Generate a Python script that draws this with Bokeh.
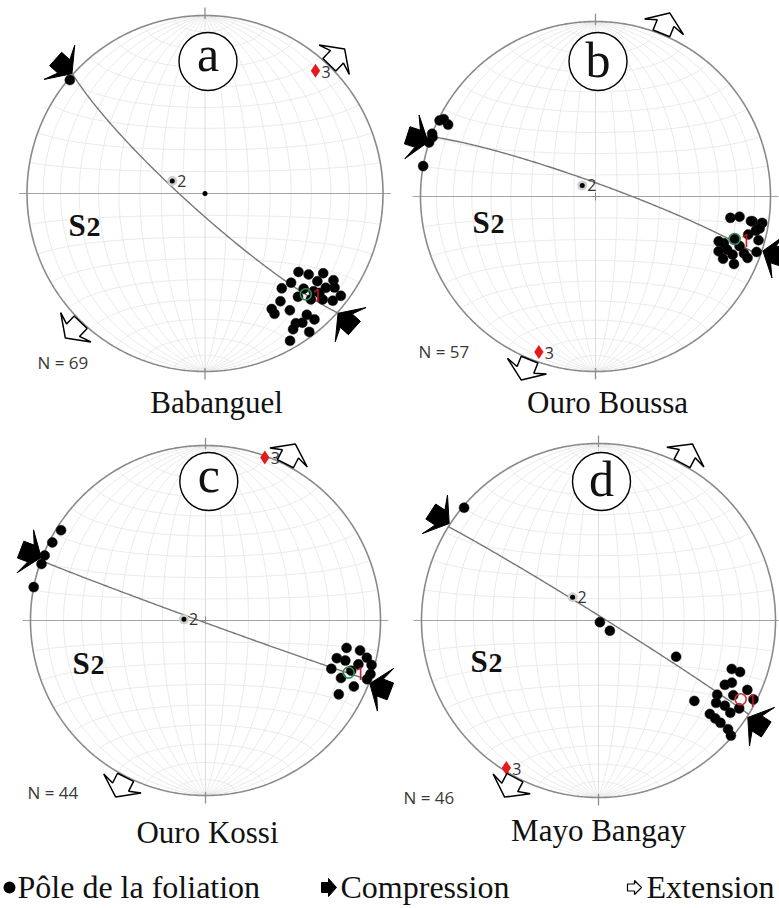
import numpy as np
from bokeh.plotting import figure
from bokeh.models import Range1d
from bokeh.embed import file_html
from bokeh.resources import INLINE
from bokeh.core.properties import value

# ---------------------------------------------------------------- data
stations = ["Babanguel", "Ouro Boussa", "Ouro Kossi", "Mayo Bangay"]
panel_tags = ["a", "b", "c", "d"]
n_counts = [69, 57, 44, 46]

# poles to the S2 foliation, trend / plunge in degrees (lower hemisphere)
pole_trend_a = [130, 128, 124, 124, 136, 141, 134, 128, 126, 127, 145, 138, 132, 130,
                150, 150, 144, 140, 139, 145, 143, 147, 143, 150, 310, 132, 128, 135, 131]
pole_plunge_a = [32, 27, 21, 14, 31, 32, 24, 15, 11, 5, 27, 23, 12, 7,
                 26, 23, 20, 12, 7, 12, 10, 10, 3, 5, 1, 19, 21, 17, 16]

pole_trend_b = [296, 296, 297, 291, 290, 288, 280,
                99, 98, 99, 99, 102, 107, 110, 112, 114, 105,
                109, 113, 111, 116, 112, 116, 110, 99, 101, 109, 104]
pole_plunge_b = [1, 7, 3, 0, 1, 0, 0,
                 23, 18, 10, 4, 7, 18, 23, 20, 24, 4,
                 3, 16, 10, 20, 7, 13, 26, 11, 5, 14, 11]

pole_trend_c = [302, 297, 292, 289, 281,
                101, 101, 106, 103, 111, 105, 113, 110, 119, 114, 108, 109, 106, 106]
pole_plunge_c = [3, 2, 1, 1, 0,
                 19, 11, 23, 6, 24, 2, 17, 2, 14, 8, 1, 13, 18, 10]

pole_trend_d = [310, 140, 132, 115, 130,
                110, 110, 117, 115, 115, 122, 119, 117, 125, 124, 130, 130, 125, 122, 130, 131, 130]
pole_plunge_d = [1, 89, 83, 50, 30,
                 21, 16, 21, 18, 8, 22, 14, 2, 20, 15, 19, 15, 10, 7, 5, 1, 11]

# eigenvectors of the orientation tensor (1 = max, 2 = int, 3 = min)
eig1_trend = [135, 107, 110, 119]
eig1_plunge = [21, 18, 14, 9]
eig2_trend = [291, 310, 273, 312]
eig2_plunge = [74, 82, 80, 74]
eig3_trend = [42, 200, 20, 212]
eig3_plunge = [8, 6, 1, 2]

# azimuths of the shortening and stretching arrows
compression_az = [132, 108, 111, 123]
extension_az = [44, 22, 27, 28]

legend_labels = ["Pôle de la foliation", "Compression", "Extension"]

# ---------------------------------------------------------------- layout
W, H = 779, 908
centers = [(204.5, 193.0), (595.0, 196.0), (205.0, 620.0), (598.0, 620.0)]
radii = [178.0, 175.0, 175.0, 177.0]
tag_circle = [(207.5, 61.0), (597.5, 61.0), (208.3, 481.0), (601.0, 481.0)]
tag_mid = [53.0, 59.0, 474.0, 478.0]          # vertical middle of the tag letter
s2_mid = [(68, 225), (472, 222), (72, 663), (470, 661)]
n_mid = [(37, 362), (418, 351), (27, 792), (403, 797)]
name_mid = [(216, 402), (607, 402), (207, 832), (598, 829.5)]
center_marker = ["circle", "cross", "cross", "cross"]
eig1_color = ["#2e8b57", "#2e8b57", "#2e8b57", "#d0303a"]

SERIF = value("Liberation Serif")
SANS = value("Open Sans")


def line_vec(trend, plunge):
    t = np.radians(np.asarray(trend, float))
    pl = np.radians(np.asarray(plunge, float))
    return np.cos(pl) * np.sin(t), np.cos(pl) * np.cos(t), np.sin(pl)


def equal_area(x, y, z):
    k = 1.0 / np.sqrt(1.0 + np.asarray(z))
    return np.asarray(x) * k, np.asarray(y) * k


def net_lines():
    """Schmidt net: great circles striking N-S and small circles about N-S, every 10 deg."""
    s = np.radians(np.linspace(-90, 90, 181))
    out = []
    for g in range(-80, 90, 10):
        if g == 0:
            continue
        a = np.radians(g)
        out.append(equal_area(np.cos(s) * np.sin(a), np.sin(s), np.cos(s) * np.cos(a)))
        out.append(equal_area(np.cos(a) * np.sin(s), np.full_like(s, np.sin(a)), np.cos(a) * np.cos(s)))
    return out


def girdle(t3, p3):
    t, pl = np.radians(t3), np.radians(p3)
    sv = np.array([np.cos(t), -np.sin(t), 0.0])
    dv = np.array([-np.sin(pl) * np.sin(t), -np.sin(pl) * np.cos(t), np.cos(pl)])
    phi = np.linspace(0, np.pi, 241)
    v = np.outer(np.cos(phi), sv) + np.outer(np.sin(phi), dv)
    return equal_area(v[:, 0], v[:, 1], np.clip(v[:, 2], 0, None))


def arrow_shape(base, direction, length, head_len, head_w, shaft_w, sweep):
    """Block arrow outline: tail centre at base, tip at base + length * direction."""
    u = np.array([0, length - head_len, length - head_len - sweep, length,
                  length - head_len - sweep, length - head_len, 0])
    v = np.array([-shaft_w / 2, -shaft_w / 2, -head_w / 2, 0, head_w / 2, shaft_w / 2, shaft_w / 2])
    dx, dy = direction
    px, py = -dy, dx
    return list(base[0] + u * dx + v * px), list(base[1] + u * dy + v * py)


p = figure(width=W, height=H, x_range=Range1d(0, W), y_range=Range1d(H, 0),
           output_backend="svg", toolbar_location=None,
           x_axis_location=None, y_axis_location=None, min_border=0)
p.grid.visible = False
p.outline_line_color = None
p.background_fill_color = "white"
p.border_fill_color = "white"

poles = [(pole_trend_a, pole_plunge_a), (pole_trend_b, pole_plunge_b),
         (pole_trend_c, pole_plunge_c), (pole_trend_d, pole_plunge_d)]
grid = net_lines()
ring = np.radians(np.linspace(0, 360, 721))

for i in range(4):
    cx, cy = centers[i]
    R = radii[i]

    def scr(X, Y):
        return cx + R * np.asarray(X), cy - R * np.asarray(Y)

    # net
    gx, gy = [], []
    for X, Y in grid:
        sx, sy = scr(X, Y)
        gx.append(list(sx))
        gy.append(list(sy))
    p.multi_line(gx, gy, line_color="#e4e4e4", line_width=0.8)
    # N-S and E-W diameters with ticks
    p.line([cx, cx], [cy - R, cy + R], line_color="#d8d8d8", line_width=0.9)
    p.line([cx - R * 1.045, cx + R * 1.045], [cy, cy], line_color="#a4a4a4", line_width=1.0)
    p.multi_line([[cx, cx], [cx, cx]],
                 [[cy - R * 1.045, cy - R * 0.98], [cy + R * 0.98, cy + R * 1.045]],
                 line_color="#8f8f8f", line_width=1.3)
    # primitive
    px_, py_ = scr(np.sin(ring), np.cos(ring))
    p.line(px_, py_, line_color="#8a8a8a", line_width=1.6)
    # best-fit girdle (plane normal to eigenvector 3)
    GX, GY = girdle(eig3_trend[i], eig3_plunge[i])
    sx, sy = scr(GX, GY)
    p.line(sx, sy, line_color="#777777", line_width=1.4)
    # centre mark
    if center_marker[i] == "circle":
        p.scatter([cx], [cy], marker="circle", size=5, fill_color="black", line_color=None)
    else:
        p.scatter([cx], [cy], marker="cross", size=8, line_color="#888888", line_width=1)

    # poles
    X, Y = equal_area(*line_vec(*poles[i]))
    sx, sy = scr(X, Y)
    p.scatter(sx, sy, marker="circle", size=10, fill_color="black", line_color="#1a1a1a", line_width=0.5)

    # eigenvectors
    X1, Y1 = equal_area(*line_vec([eig1_trend[i]], [eig1_plunge[i]]))
    e1x, e1y = scr(X1, Y1)
    p.scatter(e1x, e1y, marker="circle", size=11, fill_color=None, line_color=eig1_color[i], line_width=1.6)
    p.text(e1x + 6, e1y + 1, text=["1"], text_font=SANS, text_font_size="19px",
           text_color="#c0142a", text_baseline="middle", text_align="left")

    X2, Y2 = equal_area(*line_vec([eig2_trend[i]], [eig2_plunge[i]]))
    e2x, e2y = scr(X2, Y2)
    p.scatter(e2x, e2y, marker="circle", size=10, fill_color="#cfcfcf", line_color=None)
    p.scatter(e2x, e2y, marker="circle", size=5, fill_color="black", line_color=None)
    p.text(e2x + 5, e2y, text=["2"], text_font=SANS, text_font_size="16px",
           text_color="#333333", text_baseline="middle", text_align="left")

    X3, Y3 = equal_area(*line_vec([eig3_trend[i]], [eig3_plunge[i]]))
    e3x, e3y = scr(X3, Y3)
    p.scatter(e3x, e3y, marker="diamond", size=14, fill_color="#e41a1c", line_color=None)
    p.text(e3x + 6, e3y + 1, text=["3"], text_font=SANS, text_font_size="16px",
           text_color="#333333", text_baseline="middle", text_align="left")

    # compression arrows (pointing inward) and extension arrows (pointing outward)
    cxs, cys, exs, eys = [], [], [], []
    for k in (0, 180):
        a = np.radians(compression_az[i] + k)
        out = (np.sin(a), -np.cos(a))
        base = (cx + out[0] * (R + 23), cy + out[1] * (R + 23))
        ax_, ay_ = arrow_shape(base, (-out[0], -out[1]), 22, 11, 46, 18, 6)
        cxs.append(ax_)
        cys.append(ay_)
        a = np.radians(extension_az[i] + k)
        out = (np.sin(a), -np.cos(a))
        base = (cx + out[0] * (R + 1), cy + out[1] * (R + 1))
        ax_, ay_ = arrow_shape(base, out, 22, 11, 42, 18, 4)
        exs.append(ax_)
        eys.append(ay_)
    p.patches(cxs, cys, fill_color="black", line_color="black", line_width=1)
    p.patches(exs, eys, fill_color="white", line_color="black", line_width=1.5)

    # panel tag in a circle
    tx, ty = tag_circle[i]
    p.circle([tx], [ty], radius=29, fill_color="white", line_color="black", line_width=1.4)
    p.text([tx], [tag_mid[i]], text=[panel_tags[i]], text_font=SERIF, text_font_size="50px",
           text_color="#111111", text_align="center", text_baseline="middle")

    # S2 label
    sx0, sy0 = s2_mid[i]
    p.text([sx0], [sy0], text=["S"], text_font=SERIF, text_font_size="31px", text_font_style="bold",
           text_color="#111111", text_align="left", text_baseline="middle")
    p.text([sx0 + 18], [sy0 + 1], text=["2"], text_font=SERIF, text_font_size="28px",
           text_font_style="bold", text_color="#111111", text_align="left", text_baseline="middle")

    # sample size and station name
    p.text([n_mid[i][0]], [n_mid[i][1]], text=[f"N = {n_counts[i]}"], text_font=SANS,
           text_font_size="17px", text_color="#3a3a3a", text_align="left", text_baseline="middle")
    p.text([name_mid[i][0]], [name_mid[i][1]], text=[stations[i]], text_font=SERIF,
           text_font_size="31px", text_color="#111111", text_align="center", text_baseline="middle")

# ---------------------------------------------------------------- legend
LY = 886
p.scatter([9], [LY + 1], marker="circle", size=12, fill_color="black", line_color=None)
lx, ly = arrow_shape((321, LY + 1), (1, 0), 15, 8, 18, 10, 0)
p.patch(lx, ly, fill_color="black", line_color="black")
lx, ly = arrow_shape((627, LY + 1), (1, 0), 14, 7, 14, 7, 0)
p.patch(lx, ly, fill_color="white", line_color="black", line_width=1.2)
p.text([17, 340, 646], [LY] * 3, text=legend_labels, text_font=SERIF, text_font_size="32px",
       text_color="#111111", text_align="left", text_baseline="middle")

open("out.html", "w").write(file_html(p, INLINE))
